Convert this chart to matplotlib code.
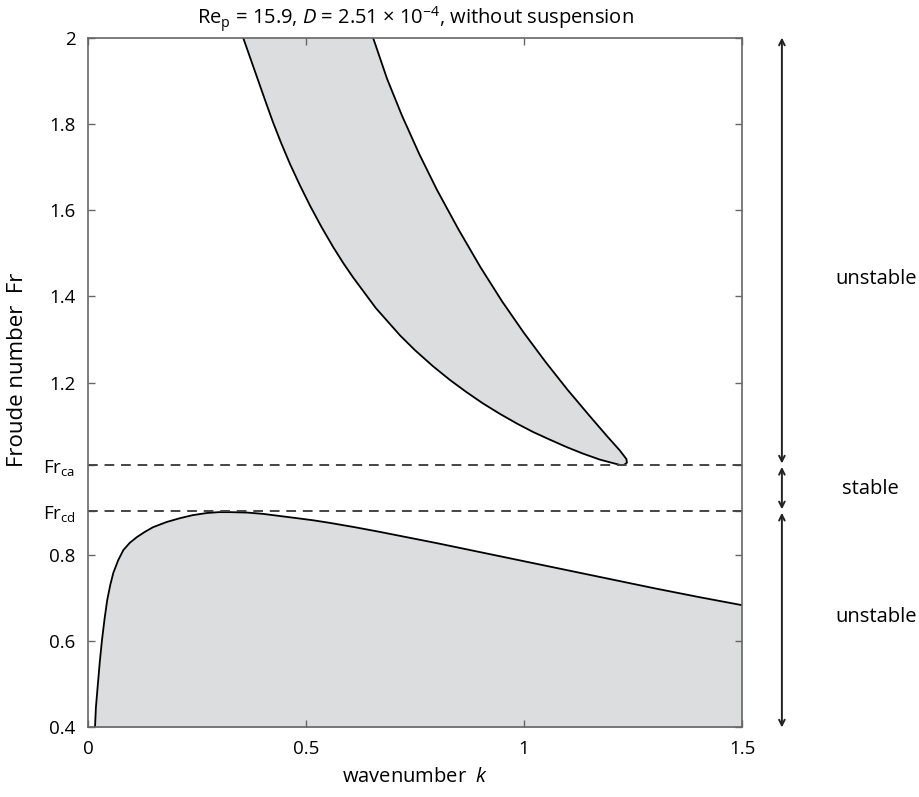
import matplotlib
matplotlib.use("Agg")
import matplotlib.pyplot as plt

plt.rcParams['font.family'] = ['Open Sans', 'DejaVu Sans']
plt.rcParams['mathtext.fontset'] = 'custom'
plt.rcParams['mathtext.rm'] = 'Open Sans'
plt.rcParams['mathtext.it'] = 'Open Sans:italic'

# critical Froude numbers
fr_ca = 1.008
fr_cd = 0.9015

# upper unstable tongue: left boundary (top -> tip), right boundary (tip -> top)
up_left_k = [0.356, 0.373, 0.390, 0.407, 0.424, 0.443, 0.463, 0.485, 0.509, 0.535,
             0.562, 0.585, 0.608, 0.660, 0.716, 0.750, 0.791, 0.830, 0.869, 0.905,
             0.945, 0.985, 1.021, 1.060, 1.098, 1.135, 1.174, 1.200, 1.215, 1.222]
up_left_fr = [2.000, 1.951, 1.902, 1.853, 1.805, 1.756, 1.708, 1.660, 1.611, 1.562,
              1.515, 1.478, 1.444, 1.373, 1.309, 1.275, 1.238, 1.206, 1.177, 1.152,
              1.127, 1.104, 1.085, 1.067, 1.050, 1.035, 1.021, 1.014, 1.010, 1.008]
up_right_k = [1.222, 1.230, 1.236, 1.235, 1.220, 1.190, 1.150, 1.100, 1.050, 1.000,
              0.950, 0.900, 0.850, 0.800, 0.760, 0.720, 0.686, 0.654]
up_right_fr = [1.008, 1.009, 1.014, 1.022, 1.042, 1.076, 1.123, 1.183, 1.247, 1.315,
               1.388, 1.468, 1.555, 1.648, 1.730, 1.820, 1.905, 2.000]

# lower unstable region boundary
low_k = [0.016, 0.018, 0.022, 0.027, 0.032, 0.038, 0.044, 0.051, 0.058, 0.069,
         0.081, 0.096, 0.112, 0.130, 0.149, 0.180, 0.211, 0.240, 0.273, 0.300,
         0.326, 0.365, 0.401, 0.440, 0.479, 0.517, 0.555, 0.612, 0.670, 0.800,
         0.900, 1.000, 1.100, 1.200, 1.300, 1.400, 1.500]
low_fr = [0.400, 0.445, 0.493, 0.552, 0.602, 0.652, 0.695, 0.730, 0.758, 0.787,
          0.811, 0.828, 0.841, 0.853, 0.864, 0.876, 0.885, 0.892, 0.897, 0.899,
          0.899, 0.898, 0.895, 0.890, 0.885, 0.880, 0.874, 0.864, 0.853, 0.827,
          0.806, 0.785, 0.764, 0.743, 0.722, 0.702, 0.683]

yticks = [0.4, 0.6, 0.8, fr_cd, fr_ca, 1.2, 1.4, 1.6, 1.8, 2.0]
yticklabels = ['0.4', '0.6', '0.8', r'Fr$_\mathrm{cd}$', r'Fr$_\mathrm{ca}$',
               '1.2', '1.4', '1.6', '1.8', '2']
xticks = [0, 0.5, 1, 1.5]
xticklabels = ['0', '0.5', '1', '1.5']

fill_c = '#dcdddf'
spine_c = '#666666'

fig = plt.figure(figsize=(9.19, 7.97), dpi=100)
ax = fig.add_axes([0.0958, 0.0878, 0.7116, 0.8645])

# upper tongue
poly_k = up_left_k + up_right_k[1:]
poly_fr = up_left_fr + up_right_fr[1:]
ax.fill(poly_k, poly_fr, color=fill_c, lw=0)
ax.plot(poly_k, poly_fr, color='black', lw=1.3)

# lower region
ax.fill_between(low_k, low_fr, 0.0, color=fill_c, lw=0)
ax.plot(low_k, low_fr, color='black', lw=1.3)

for fr in (fr_ca, fr_cd):
    ax.axhline(fr, color='#444444', lw=1.4, ls=(0, (5, 3.5)))

ax.set_xlim(0, 1.5)
ax.set_ylim(0.4, 2.0)
ax.set_xticks(xticks, xticklabels)
ax.set_yticks(yticks, yticklabels)
ax.tick_params(direction='in', length=5, width=1, color=spine_c,
               top=True, right=True, labelsize=13.5, pad=9)
for s in ax.spines.values():
    s.set_color(spine_c)
    s.set_linewidth(1.2)

ax.set_xlabel(r'wavenumber  $k$', fontsize=14.5)
ax.xaxis.set_label_coords(0.5, -0.058)
ax.set_ylabel('Froude number  Fr', fontsize=16)
ax.yaxis.set_label_coords(-0.092, 0.518)
ax.set_title(r'Re$_\mathrm{p}$ = 15.9, $D$ = 2.51 × 10$^{-4}$, without suspension',
             fontsize=14.5, pad=10)

# stability ranges on the right
tr = ax.get_yaxis_transform()
arrow_x = 1.061
ranges = [(2.005, fr_ca), (fr_ca, fr_cd), (fr_cd, 0.395)]
for top, bot in ranges:
    ax.annotate('', xy=(arrow_x, bot + 0.004), xytext=(arrow_x, top - 0.004),
                xycoords=tr, textcoords=tr, annotation_clip=False,
                arrowprops=dict(arrowstyle='<->', color='#222222', lw=1.4,
                                mutation_scale=10, shrinkA=0, shrinkB=0))

labels = [('unstable', 1.205, 1.44), ('stable', 1.196, 0.952), ('unstable', 1.205, 0.655)]
for text, x, y in labels:
    ax.text(x, y, text, transform=tr, ha='center', va='center', fontsize=14.5)

fig.savefig('out.png', dpi=100)
